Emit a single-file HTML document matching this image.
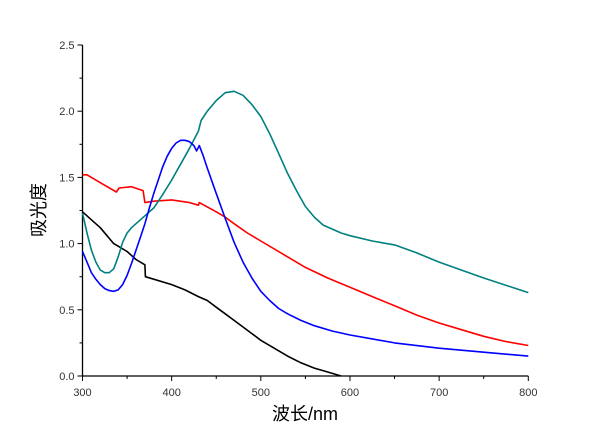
<!DOCTYPE html>
<html><head><meta charset="utf-8"><style>
html,body{margin:0;padding:0;background:#fff;}
svg{display:block;font-family:"Liberation Sans","Noto Sans CJK SC",sans-serif;}
</style></head><body>
<svg id="chart" width="600" height="444" viewBox="0 0 600 444"></svg>
<script>
const xTicks=[300,400,500,600,700,800];
const yTicks=[0.0,0.5,1.0,1.5,2.0,2.5];
const blackX=[300,310,320,335,340,350,360,370,370.5,400,415,430,440,450,460,470,480,490,500,515,530,545,560,575,590];
const blackY=[1.24,1.18,1.12,1.0,0.98,0.94,0.88,0.84,0.75,0.69,0.65,0.60,0.57,0.52,0.47,0.42,0.37,0.32,0.27,0.21,0.15,0.10,0.06,0.03,0.0];
const redX=[300,305,320,338,341,355,368,370,380,400,420,430,431,450,460,470,485,500,525,550,575,600,625,650,675,700,725,750,775,800];
const redY=[1.52,1.52,1.46,1.39,1.42,1.43,1.40,1.31,1.32,1.33,1.31,1.29,1.31,1.24,1.20,1.15,1.08,1.02,0.92,0.82,0.74,0.67,0.60,0.53,0.46,0.40,0.35,0.30,0.26,0.23];
const blueX=[300,305,310,315,320,325,330,335,340,345,350,355,360,365,370,375,380,385,390,395,400,405,410,415,420,425,428,431,435,440,450,460,470,480,490,500,510,520,530,545,560,580,600,625,650,700,750,800];
const blueY=[0.94,0.86,0.78,0.73,0.69,0.66,0.645,0.64,0.65,0.69,0.76,0.85,0.95,1.05,1.15,1.27,1.38,1.48,1.58,1.66,1.72,1.76,1.78,1.78,1.77,1.74,1.70,1.74,1.67,1.57,1.38,1.19,1.01,0.86,0.74,0.64,0.57,0.51,0.47,0.42,0.38,0.34,0.31,0.28,0.25,0.21,0.18,0.15];
const tealX=[300,305,310,315,320,325,330,335,340,345,350,355,360,370,380,390,400,410,420,430,433,440,450,460,470,480,490,500,510,520,530,540,550,560,570,580,590,600,625,650,675,700,750,800];
const tealY=[1.23,1.08,0.95,0.86,0.80,0.78,0.78,0.81,0.90,1.01,1.08,1.12,1.15,1.21,1.27,1.37,1.48,1.60,1.72,1.85,1.93,2.00,2.08,2.14,2.15,2.12,2.05,1.96,1.83,1.68,1.53,1.40,1.28,1.20,1.14,1.11,1.08,1.06,1.02,0.99,0.93,0.86,0.74,0.63];

const NS="http://www.w3.org/2000/svg";
const svg=document.getElementById('chart');
const X0=82.5,X1=528.3,Y0=376,Y1=45;
const sx=v=>X0+(v-300)/500*(X1-X0);
const sy=v=>Y0-v/2.5*(Y0-Y1);
function mk(t,a){const e=document.createElementNS(NS,t);for(const k in a)e.setAttribute(k,a[k]);svg.appendChild(e);return e;}

let ax=mk('line',{x1:X0,y1:Y0,x2:X1,y2:Y0,stroke:'#000','stroke-width':1.3});


let ay=mk('line',{x1:X0,y1:Y0,x2:X0,y2:Y1,stroke:'#000','stroke-width':1.3});



for(let v=300;v<=800;v+=50){
  const maj=(v%100===0);
  const t=mk('line',{x1:sx(v),y1:Y0,x2:sx(v),y2:Y0+(maj?5:3),stroke:'#000','stroke-width':1});
  
  
}
xTicks.forEach(v=>{
  const t=mk('text',{x:sx(v),y:Y0+20,'text-anchor':'middle','font-size':11,fill:'#333'});
  t.textContent=v;
  
  
});
for(let i=0;i<=10;i++){
  const v=i*0.25,maj=(i%2===0);
  const t=mk('line',{x1:X0,y1:sy(v),x2:X0-(maj?5:3),y2:sy(v),stroke:'#000','stroke-width':1});
  
  
}
yTicks.forEach(v=>{
  const t=mk('text',{x:X0-8,y:sy(v)+4,'text-anchor':'end','font-size':11,fill:'#333'});
  t.textContent=v.toFixed(1);
  
  
});
const xt=mk('text',{x:305,y:420,'text-anchor':'middle','font-size':18,fill:'#000'});
xt.textContent='波长/nm';


const yt=mk('text',{x:0,y:0,'text-anchor':'middle','font-size':18,fill:'#000',transform:'translate(45,210) rotate(-90)'});
yt.textContent='吸光度';



function series(xs,ys,color,name){
  const d=xs.map((x,i)=>(i?'L':'M')+sx(x).toFixed(1)+','+sy(ys[i]).toFixed(1)).join(' ');
  const p=mk('path',{d:d,fill:'none',stroke:color,'stroke-width':1.6,'stroke-linejoin':'round'});
  
  
}
series(blackX,blackY,'#000','series-black');
series(redX,redY,'#ff0000','series-red');
series(tealX,tealY,'#008080','series-teal');
series(blueX,blueY,'#0000ff','series-blue');
</script>
</body></html>
